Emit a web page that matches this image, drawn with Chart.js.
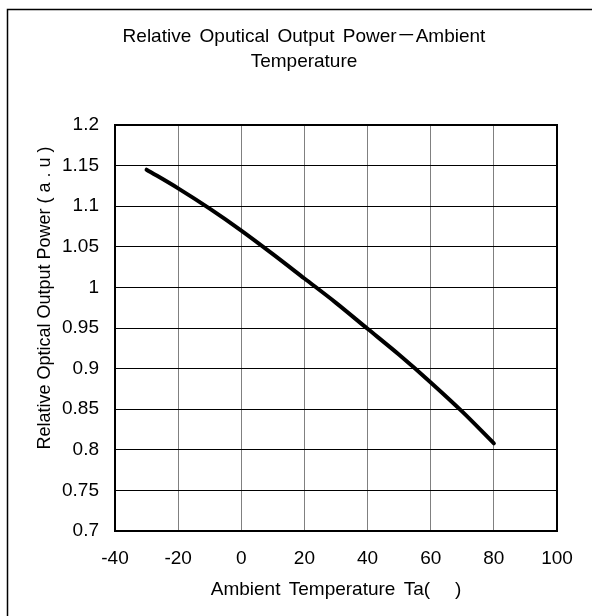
<!DOCTYPE html>
<html>
<head>
<meta charset="utf-8">
<script src="https://cdn.jsdelivr.net/npm/chart.js@4/dist/chart.umd.min.js"></script>
<style>
  html, body { margin: 0; padding: 0; background: #fff; }
  #wrap { width: 592px; height: 616px; position: relative; }
</style>
</head>
<body>
<div id="wrap"><canvas id="c" width="592" height="616"></canvas></div>
<script>
// ---- data ----
const temperatures = [-30, -20, -10, 0, 10, 20, 30, 40, 50, 60, 70, 80];
const relativePower = [1.145, 1.122, 1.097, 1.070, 1.041, 1.011, 0.981, 0.949, 0.917, 0.883, 0.847, 0.808];
const xTicks = [-40, -20, 0, 20, 40, 60, 80, 100];
const yTicks = [0.7, 0.75, 0.8, 0.85, 0.9, 0.95, 1, 1.05, 1.1, 1.15, 1.2];
const chartTitle = ['Relative Oputical Output Power－Ambient', 'Temperature'];
const xTitle = 'Ambient Temperature Ta(   )';
const yTitle = 'Relative Optical Output Power ( a . u )';

const FONT = '"Liberation Sans", Arial, "Noto Sans CJK JP", sans-serif';

const framePlugin = {
  id: 'frame',
  beforeDraw(chart) {
    const ctx = chart.ctx;
    ctx.save();
    ctx.fillStyle = '#fff';
    ctx.fillRect(0, 0, chart.width, chart.height);
    ctx.strokeStyle = '#000';
    ctx.lineWidth = 1.5;
    ctx.beginPath();
    ctx.moveTo(7.5, chart.height);
    ctx.lineTo(7.5, 9.5);
    ctx.lineTo(chart.width, 9.5);
    ctx.stroke();
    ctx.restore();
    // slightly wider word gaps, as in the reference rendering
    ctx.wordSpacing = '3px';
  },
  afterDatasetsDraw(chart) {
    const a = chart.chartArea;
    const ctx = chart.ctx;
    ctx.save();
    ctx.strokeStyle = '#000';
    ctx.lineWidth = 2;
    ctx.strokeRect(a.left, a.top, a.right - a.left, a.bottom - a.top);
    // y axis title
    ctx.wordSpacing = '0px';
    ctx.translate(45, 298);
    ctx.rotate(-Math.PI / 2);
    ctx.fillStyle = '#000';
    ctx.font = '18px ' + FONT;
    ctx.textAlign = 'center';
    ctx.textBaseline = 'middle';
    ctx.fillText(yTitle, 0, 0);
    ctx.restore();
  }
};

new Chart(document.getElementById('c'), {
  type: 'line',
  data: {
    datasets: [{
      data: temperatures.map((t, i) => ({ x: t, y: relativePower[i] })),
      borderColor: '#000',
      borderWidth: 4,
      borderCapStyle: 'round',
      pointRadius: 0,
      fill: false,
      cubicInterpolationMode: 'monotone'
    }]
  },
  options: {
    responsive: false,
    animation: false,
    layout: { padding: { left: 16, right: 0, top: 0, bottom: 0 } },
    plugins: {
      legend: { display: false },
      tooltip: { enabled: false },
      title: {
        display: true,
        text: chartTitle,
        color: '#000',
        font: { family: FONT, size: 19, weight: 'normal', lineHeight: 25 / 19 },
        padding: { top: 24.5, bottom: 50.5 }
      }
    },
    scales: {
      x: {
        type: 'linear',
        min: -40, max: 100,
        afterBuildTicks(s) { s.ticks = xTicks.map(v => ({ value: v })); },
        afterFit(s) { s.height = 85; },
        ticks: {
          color: '#000',
          font: { family: FONT, size: 19 },
          padding: 16.6,
          maxRotation: 0,
          callback: v => String(v)
        },
        grid: { color: '#808080', lineWidth: 1, drawTicks: false },
        border: { display: true, color: '#000', width: 2 },
        title: {
          display: true,
          text: xTitle,
          color: '#000',
          font: { family: FONT, size: 19 },
          padding: { top: 0, bottom: 14.6 }
        }
      },
      y: {
        type: 'linear',
        min: 0.7, max: 1.2,
        afterBuildTicks(s) { s.ticks = yTicks.map(v => ({ value: v })); },
        afterFit(s) { s.width = 99; },
        ticks: {
          color: '#000',
          font: { family: FONT, size: 19 },
          padding: 16,
          callback: v => String(Number(v.toFixed(2)))
        },
        grid: { color: '#000', lineWidth: 1, drawTicks: false },
        border: { display: true, color: '#000', width: 2 }
      },
      y2: {
        type: 'linear',
        position: 'right',
        display: true,
        afterFit(s) { s.width = 35; },
        ticks: { display: false },
        grid: { display: false, drawTicks: false },
        border: { display: false }
      }
    }
  },
  plugins: [framePlugin]
});
</script>
</body>
</html>
